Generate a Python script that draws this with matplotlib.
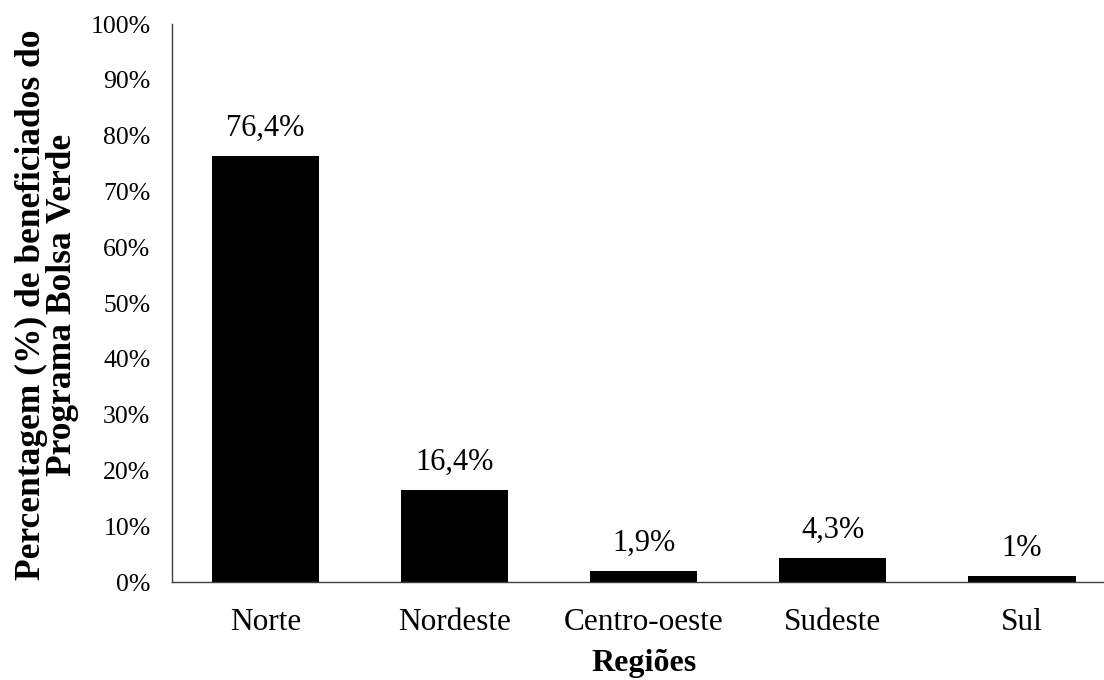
import matplotlib
matplotlib.use("Agg")
import matplotlib.pyplot as plt
import numpy as np

plt.rcParams['font.family'] = ['Liberation Serif', 'DejaVu Serif']

regioes = ["Norte", "Nordeste", "Centro-oeste", "Sudeste", "Sul"]
percentual = [76.4, 16.4, 1.9, 4.3, 1.0]
rotulos = ["76,4%", "16,4%", "1,9%", "4,3%", "1%"]

X = np.arange(len(regioes))

fig = plt.figure(figsize=(11.04, 6.8), dpi=100)
ax = fig.add_axes([0.1558, 0.1441, 0.8547, 0.8206])

ax.bar(X, percentual, 0.566, color="black")

# valor acima de cada barra
for x, y, t in zip(X, percentual, rotulos):
    ax.annotate(t, (x, y), xytext=(0, 9.5), textcoords="offset points",
                ha="center", va="bottom", fontsize=22)

ax.set_xlim(-0.495, 4.495)
ax.set_ylim(0, 100)
ax.set_yticks(np.arange(0, 101, 10))
ax.set_yticklabels(["%d%%" % v for v in range(0, 101, 10)], fontsize=18.5)
ax.set_xticks(X)
ax.set_xticklabels(regioes, fontsize=22.5)
ax.tick_params(axis="y", length=0, pad=15.5)
ax.tick_params(axis="x", length=0, pad=18.5)

for s in ["top", "right"]:
    ax.spines[s].set_visible(False)
for s in ["left", "bottom"]:
    ax.spines[s].set_color("#3f3f3f")
    ax.spines[s].set_linewidth(1.0)

fig.text(644 / 1104, (680 - 663) / 680, "Regiões",
         ha="center", va="center", fontsize=23, fontweight="bold")
fig.text(47 / 1104, (680 - 305) / 680,
         "Percentagem (%) de beneficiados do\nPrograma Bolsa Verde",
         rotation=90, ha="center", va="center", fontsize=25.5,
         fontweight="bold", linespacing=0.92, multialignment="center")

fig.savefig("out.png", dpi=100)
